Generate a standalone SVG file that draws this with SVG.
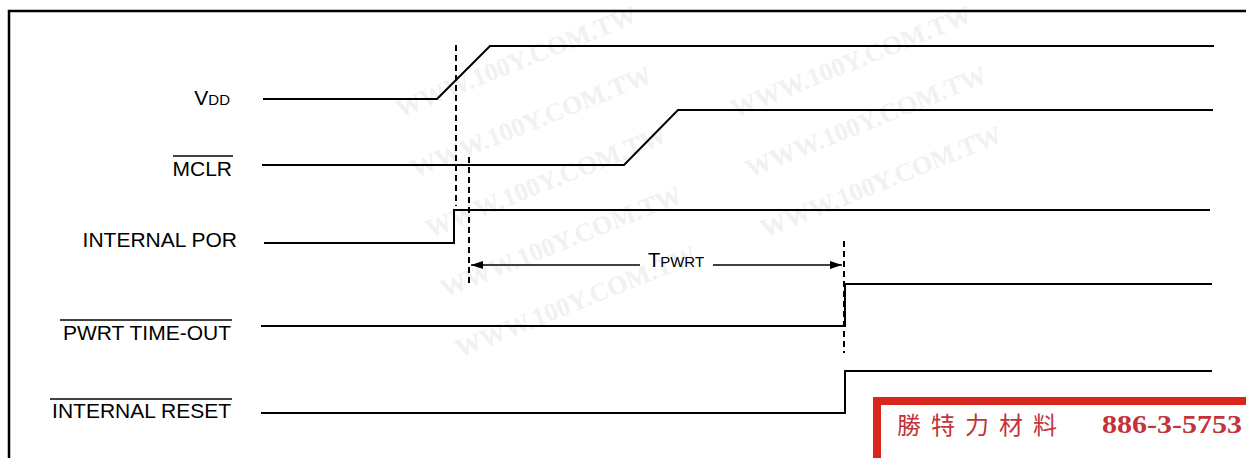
<svg xmlns="http://www.w3.org/2000/svg" width="1246" height="458" viewBox="0 0 1246 458">
<style>
.sig{fill:none;stroke:#000;stroke-width:2;stroke-linejoin:miter}
.dash{fill:none;stroke:#000;stroke-width:2;stroke-dasharray:6 4}
.dim{fill:none;stroke:#000;stroke-width:1.5}
.lbl{font-family:"Liberation Sans",Arial,sans-serif;font-size:21px;fill:#000;text-anchor:end}
.ovl{stroke:#000;stroke-width:1.5}
.wm{font-family:"Liberation Serif","Times New Roman",serif;font-weight:bold;font-size:26px;fill:#f1f1f1}
</style>
<defs>
<marker id="ah" viewBox="0 0 12 8" refX="12" refY="4" markerWidth="12" markerHeight="8" markerUnits="userSpaceOnUse" orient="auto-start-reverse">
<path d="M0,0 L12,4 L0,8 z" fill="#000"/>
</marker>
</defs>
<rect width="1246" height="458" fill="#fff"/>
<g id="watermark">
<text class="wm" transform="translate(400,118) rotate(-22)">WWW.100Y.COM.TW</text>
<text class="wm" transform="translate(415,178) rotate(-22)">WWW.100Y.COM.TW</text>
<text class="wm" transform="translate(430,238) rotate(-22)">WWW.100Y.COM.TW</text>
<text class="wm" transform="translate(445,298) rotate(-22)">WWW.100Y.COM.TW</text>
<text class="wm" transform="translate(460,358) rotate(-22)">WWW.100Y.COM.TW</text>
<text class="wm" transform="translate(735,118) rotate(-22)">WWW.100Y.COM.TW</text>
<text class="wm" transform="translate(750,178) rotate(-22)">WWW.100Y.COM.TW</text>
<text class="wm" transform="translate(765,238) rotate(-22)">WWW.100Y.COM.TW</text>
</g>
<rect id="frame" x="9" y="11" width="1250" height="460" fill="none" stroke="#000" stroke-width="2.5"/>
<g id="vdd">
<text class="lbl" x="230" y="105">V<tspan font-size="15">DD</tspan></text>
<polyline class="sig" points="263,99 437,99 490,46 1214,46"/>
</g>
<g id="mclr">
<text class="lbl" x="232" y="176">MCLR</text>
<line class="ovl" x1="173" y1="156" x2="233" y2="156"/>
<polyline class="sig" points="262,165 624,165 678,110 1213,110"/>
</g>
<g id="internal-por">
<text class="lbl" x="237" y="247">INTERNAL POR</text>
<polyline class="sig" points="264,243 454,243 454,210 1210,210"/>
</g>
<g id="pwrt-timeout">
<text class="lbl" x="231" y="340">PWRT TIME-OUT</text>
<line class="ovl" x1="60" y1="320" x2="232" y2="320"/>
<polyline class="sig" points="261,326 845,326 845,284 1212,284"/>
</g>
<g id="internal-reset">
<text class="lbl" x="231" y="418">INTERNAL RESET</text>
<line class="ovl" x1="50" y1="399" x2="232" y2="399"/>
<polyline class="sig" points="261,413 845,413 845,371 1212,371"/>
</g>
<g id="connectors">
<line class="dash" x1="456" y1="45" x2="456" y2="206"/>
<line class="dash" x1="469" y1="157" x2="469" y2="286"/>
<line class="dash" x1="844" y1="241" x2="844" y2="353"/>
<line class="dim" x1="640" y1="265" x2="471" y2="265" marker-end="url(#ah)"/>
<line class="dim" x1="713" y1="265" x2="842" y2="265" marker-end="url(#ah)"/>
</g>
<g id="tpwrt-label">
<text font-family="'Liberation Sans',Arial,sans-serif" font-size="20" x="676" y="267" text-anchor="middle">T<tspan font-size="15">PWRT</tspan></text>
</g>
<g id="stamp">
<rect x="877" y="401" width="380" height="80" fill="#fff" stroke="#d9261c" stroke-width="8"/>
<text x="897" y="434" font-family="'Noto Sans CJK TC','Noto Sans CJK SC',sans-serif" font-size="24" fill="#c4323a" letter-spacing="10">勝特力材料</text>
<text x="1102" y="433" font-family="'Liberation Serif','Times New Roman',serif" font-weight="bold" font-size="25" fill="#c4323a" textLength="140" lengthAdjust="spacingAndGlyphs">886-3-5753</text>
</g>
</svg>
